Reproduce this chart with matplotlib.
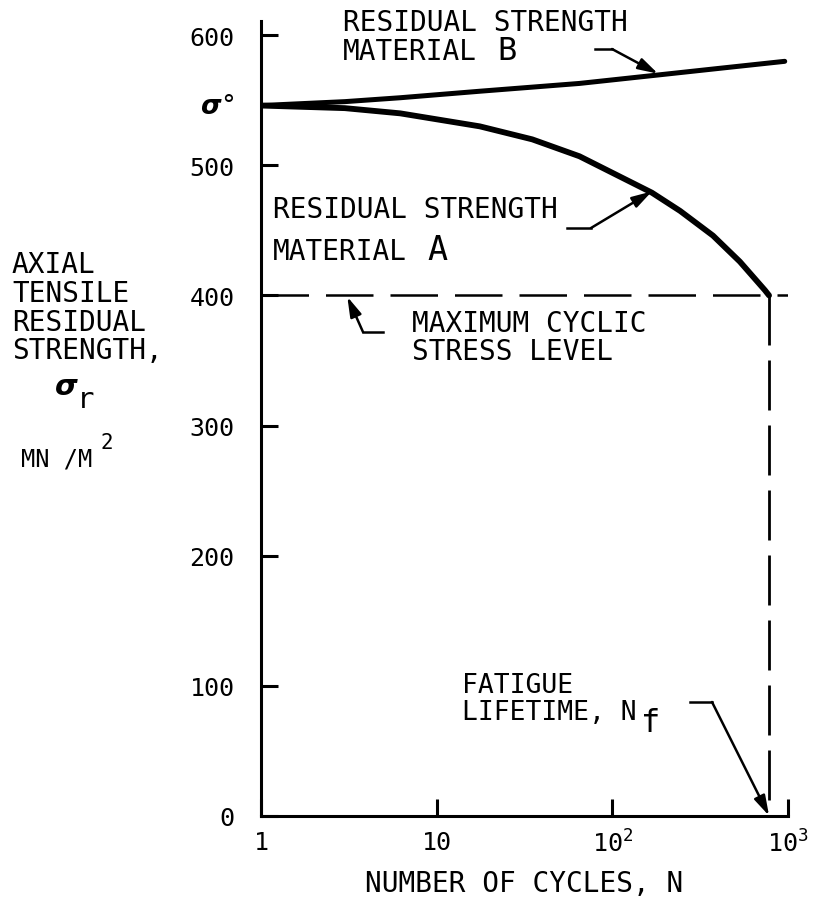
import numpy as np
import matplotlib
matplotlib.use("Agg")
import matplotlib.pyplot as plt
from matplotlib.lines import Line2D
from matplotlib.ticker import NullLocator, FixedLocator, FixedFormatter

plt.rcParams["font.family"] = ["DejaVu Sans Mono", "DejaVu Sans"]
plt.rcParams["mathtext.fontset"] = "dejavusans"

# Residual strength curves (cycles N, strength MN/m^2)
cycles_a = [1, 3, 6.2, 17.6, 35, 65, 168, 243, 374, 532, 739, 780]
strength_a = [546, 544, 540, 530, 520, 507, 479, 465, 446, 426, 404, 400]
cycles_b = [1, 3, 6.2, 17.6, 65, 182, 400, 958]
strength_b = [546, 549, 552, 557, 563, 569.5, 574.5, 580]

sigma_0 = 546          # initial static strength
max_cyclic_stress = 400
fatigue_life = 780     # N_f

y_ticks = [0, 100, 200, 300, 400, 500, 600]
y_ticklabels = ["0", "100", "200", "300", "400", "500", "600"]
x_ticks = [1, 10, 100, 1000]
x_ticklabels = ["1", "10", r"$\mathregular{10^{2}}$", r"$\mathregular{10^{3}}$"]

W, H = 825, 903
fig = plt.figure(figsize=(W / 100, H / 100), dpi=100)
ax = fig.add_axes([261 / W, 1 - 816.7 / H, (788 - 261) / W, (816.7 - 22) / H])


def fx(x):
    return x / W


def fy(y):
    return 1 - y / H


ax.set_xscale("log")
ax.set_xlim(1, 1000)
ax.set_ylim(0, 611)

for side in ("top", "right"):
    ax.spines[side].set_visible(False)
for side in ("left", "bottom"):
    ax.spines[side].set_linewidth(2.2)

ax.xaxis.set_major_locator(FixedLocator(x_ticks))
ax.xaxis.set_major_formatter(FixedFormatter(x_ticklabels))
ax.xaxis.set_minor_locator(NullLocator())
ax.yaxis.set_major_locator(FixedLocator(y_ticks))
ax.yaxis.set_major_formatter(FixedFormatter(y_ticklabels))

ax.tick_params(axis="y", direction="in", length=12, width=2.2, pad=19,
               labelsize=18)
ax.tick_params(axis="x", direction="in", length=12, width=2.2, pad=10,
               labelsize=18)

# Residual strength curves
ax.plot(cycles_a, strength_a, color="black", lw=4.2, solid_capstyle="round",
        solid_joinstyle="round", zorder=3)
ax.plot(cycles_b, strength_b, color="black", lw=3.6, solid_capstyle="round",
        solid_joinstyle="round", zorder=3)

# Maximum cyclic stress level and fatigue lifetime
ax.plot([1, 1000], [max_cyclic_stress, max_cyclic_stress], color="black",
        lw=1.8, linestyle=(0, (19, 6.8)), zorder=2)
ax.plot([fatigue_life, fatigue_life], [max_cyclic_stress, 0], color="black",
        lw=2.0, linestyle=(0, (18, 5.4)), zorder=2)

# sigma-zero label on the strength axis
ax.annotate(r"$\boldsymbol{\sigma}$°", xy=(0, sigma_0),
            xycoords=("axes fraction", "data"), xytext=(-19, 0),
            textcoords="offset points", ha="right", va="center", fontsize=19)

ax.set_xlabel("NUMBER OF CYCLES, N", fontsize=20, labelpad=9)

txt = dict(fontsize=20, va="baseline", ha="left")

# Curve labels
fig.text(fx(343), fy(31), "RESIDUAL STRENGTH", **txt)
fig.text(fx(343), fy(60), "MATERIAL", **txt)
fig.text(fx(497), fy(60), "B", fontsize=23, va="baseline", ha="left")

fig.text(fx(273), fy(218), "RESIDUAL STRENGTH", **txt)
fig.text(fx(273), fy(260), "MATERIAL", **txt)
fig.text(fx(427), fy(260), "A", fontsize=24, va="baseline", ha="left")

fig.text(fx(412), fy(332), "MAXIMUM CYCLIC", **txt)
fig.text(fx(412), fy(360), "STRESS LEVEL", **txt)

fig.text(fx(462), fy(693), "FATIGUE", fontsize=19, va="baseline", ha="left")
fig.text(fx(462), fy(720), "LIFETIME, N", fontsize=19, va="baseline",
         ha="left")
fig.text(fx(641), fy(732), "f", fontsize=23, va="baseline", ha="left")

# Strength axis title
fig.text(fx(12), fy(273), "AXIAL", **txt)
fig.text(fx(12), fy(302), "TENSILE", **txt)
fig.text(fx(12), fy(331), "RESIDUAL", **txt)
fig.text(fx(12), fy(359), "STRENGTH,", **txt)
fig.text(fx(54), fy(395), r"$\boldsymbol{\sigma}$", fontsize=21,
         va="baseline", ha="left")
fig.text(fx(77), fy(408), "r", fontsize=21, va="baseline", ha="left")
fig.text(fx(21), fy(467), "MN /M", fontsize=17, va="baseline", ha="left")
fig.text(fx(100), fy(449), "2", fontsize=15, va="baseline", ha="left")


def leader(start, knee, tip):
    """Horizontal stub from start to knee, then an arrow to the data point."""
    fig.add_artist(Line2D([fx(start[0]), fx(knee[0])],
                          [fy(start[1]), fy(knee[1])],
                          transform=fig.transFigure, color="black", lw=1.8))
    ax.annotate("", xy=tip, xycoords="data",
                xytext=(fx(knee[0]), fy(knee[1])),
                textcoords="figure fraction",
                arrowprops=dict(arrowstyle="-|>,head_length=1.2,head_width=0.35",
                                color="black", lw=1.8, shrinkA=0, shrinkB=0),
                annotation_clip=False)


leader((595, 50), (612, 50), (182, 570.5))
leader((567, 229), (591, 229), (168, 480))
leader((383, 333), (363, 333), (3.1, 399))
leader((690, 703), (712, 703), (fatigue_life, 0))

fig.savefig("out.png", dpi=100, facecolor="white")
